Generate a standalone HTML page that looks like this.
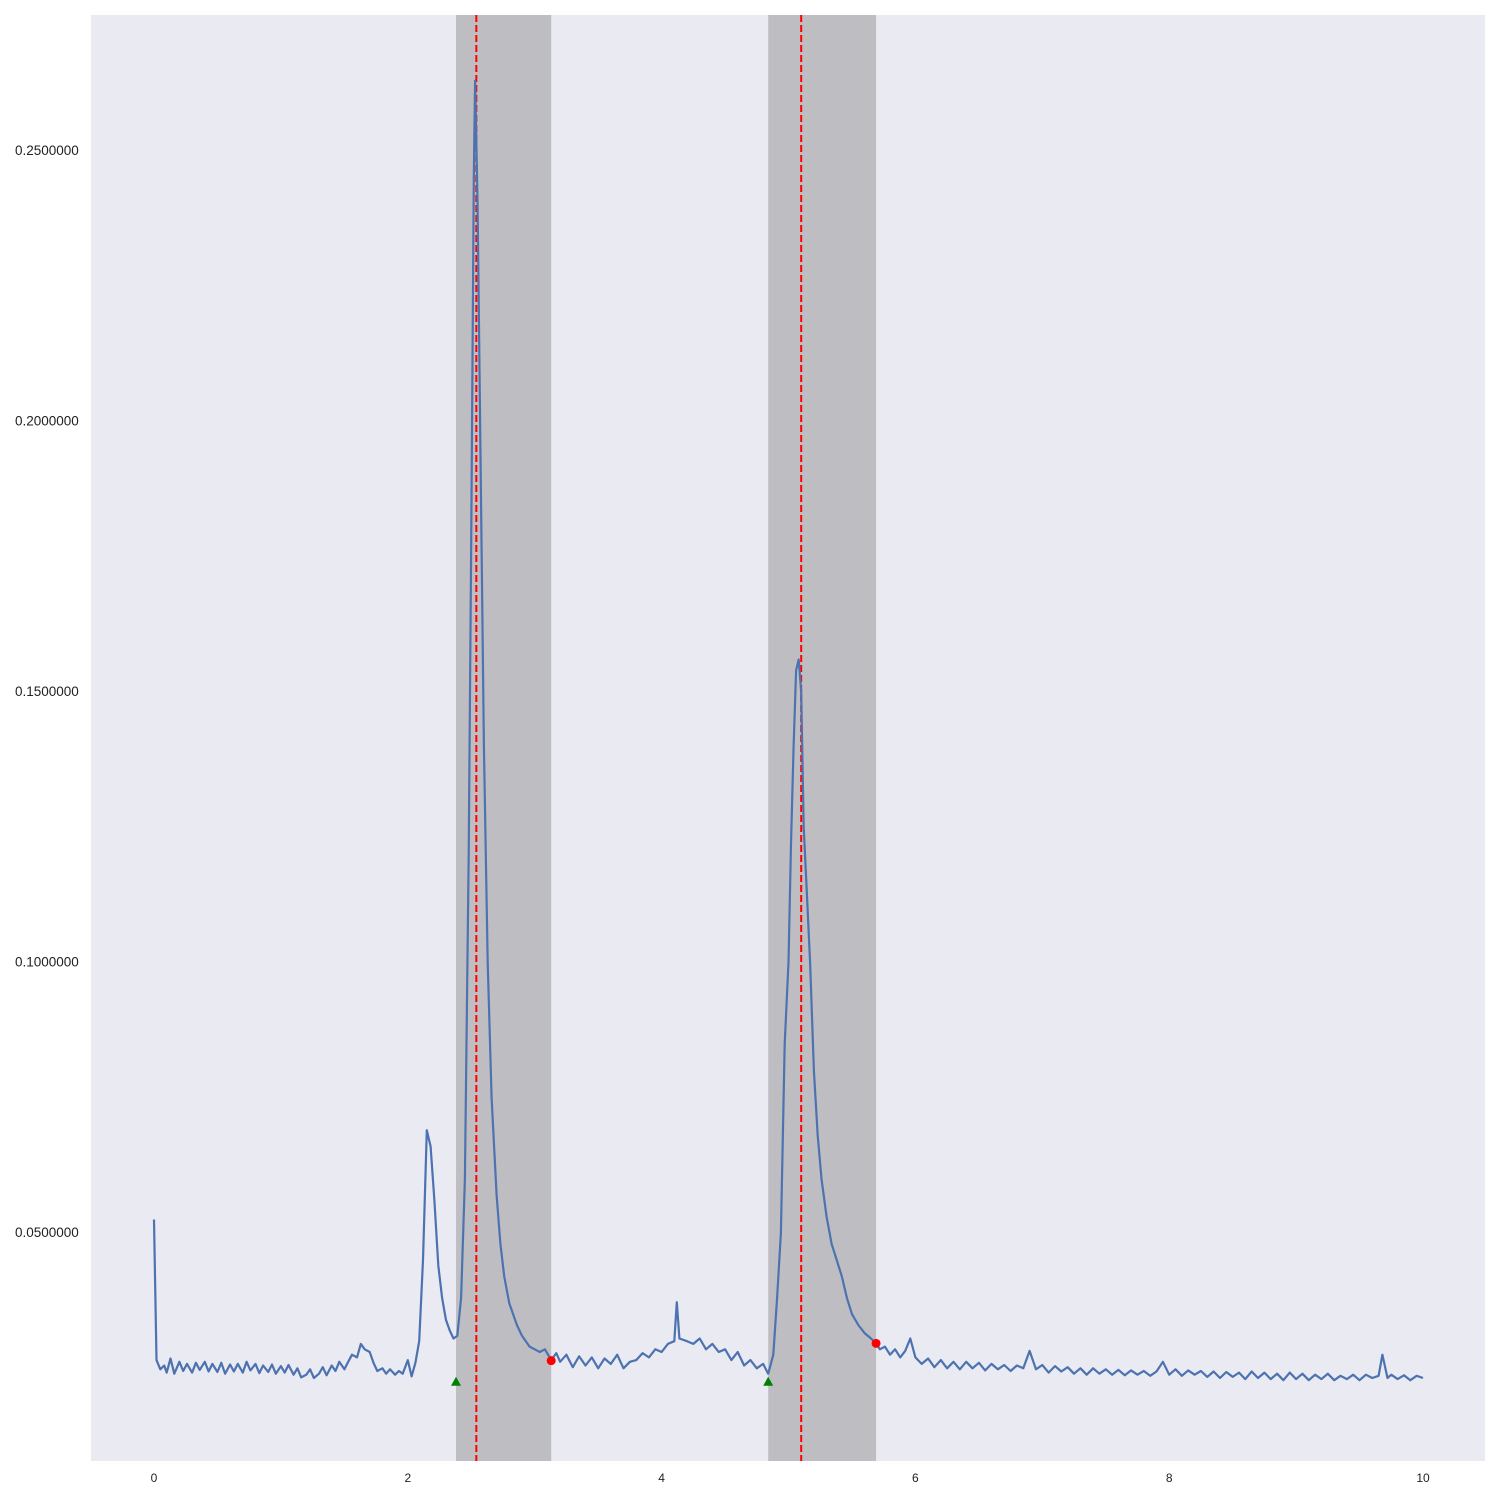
<!DOCTYPE html>
<html><head><meta charset="utf-8"><style>
body{margin:0;background:#fff}
svg{display:block;font-family:"Liberation Sans",sans-serif}
</style></head><body>
<svg id="chart" width="1500" height="1500" xmlns="http://www.w3.org/2000/svg">
<rect x="91" y="15" width="1394" height="1446" fill="#eaeaf2"/>
<g id="shades"></g><g id="lines"></g><g id="series"></g><g id="markers"></g><g id="ticks"></g>
</svg>
<script>
const xTicks=[0,2,4,6,8,10];
const yTicks=[0.05,0.10,0.15,0.20,0.25];
const regions=[[2.38,3.13],[4.84,5.69]];
const peaks=[2.54,5.10];
const startX=[2.38,4.84];
const startY=[0.0225,0.0225];
const endX=[3.13,5.69];
const endY=[0.0264,0.0296];
const xs=[0,0.02,0.05,0.08,0.1,0.13,0.16,0.2,0.23,0.26,0.3,0.33,0.36,0.4,0.43,0.46,0.5,0.53,0.56,0.6,0.63,0.66,0.7,0.73,0.76,0.8,0.83,0.86,0.9,0.93,0.96,1.0,1.03,1.06,1.1,1.13,1.16,1.2,1.23,1.26,1.3,1.33,1.36,1.4,1.43,1.46,1.5,1.53,1.56,1.6,1.63,1.66,1.7,1.73,1.76,1.8,1.83,1.86,1.9,1.93,1.96,2.0,2.03,2.06,2.09,2.12,2.15,2.18,2.21,2.24,2.27,2.3,2.33,2.36,2.39,2.42,2.45,2.48,2.5,2.52,2.53,2.55,2.57,2.6,2.63,2.66,2.7,2.73,2.76,2.8,2.83,2.86,2.9,2.93,2.96,3.0,3.04,3.08,3.13,3.17,3.2,3.25,3.3,3.35,3.4,3.45,3.5,3.55,3.6,3.65,3.7,3.75,3.8,3.85,3.9,3.95,4.0,4.05,4.1,4.12,4.14,4.2,4.25,4.3,4.35,4.4,4.45,4.5,4.55,4.6,4.65,4.7,4.75,4.8,4.84,4.88,4.91,4.94,4.97,5.0,5.02,5.04,5.06,5.08,5.1,5.12,5.14,5.17,5.2,5.23,5.26,5.3,5.34,5.38,5.42,5.46,5.5,5.55,5.6,5.65,5.69,5.72,5.76,5.8,5.84,5.88,5.92,5.96,6.0,6.05,6.1,6.15,6.2,6.25,6.3,6.35,6.4,6.45,6.5,6.55,6.6,6.65,6.7,6.75,6.8,6.85,6.9,6.95,7.0,7.05,7.1,7.15,7.2,7.25,7.3,7.35,7.4,7.45,7.5,7.55,7.6,7.65,7.7,7.75,7.8,7.85,7.9,7.95,8.0,8.05,8.1,8.15,8.2,8.25,8.3,8.35,8.4,8.45,8.5,8.55,8.6,8.65,8.7,8.75,8.8,8.85,8.9,8.95,9.0,9.05,9.1,9.15,9.2,9.25,9.3,9.35,9.4,9.45,9.5,9.55,9.6,9.65,9.68,9.72,9.75,9.8,9.85,9.9,9.95,10.0];
const ys=[0.0525,0.0265,0.0248,0.0255,0.0242,0.0268,0.0240,0.0262,0.0245,0.0258,0.0242,0.0260,0.0247,0.0262,0.0244,0.0258,0.0243,0.0260,0.0240,0.0257,0.0244,0.0258,0.0242,0.0262,0.0246,0.0258,0.0241,0.0255,0.0243,0.0257,0.0240,0.0254,0.0242,0.0256,0.0238,0.0250,0.0233,0.0238,0.0248,0.0232,0.0240,0.0252,0.0237,0.0255,0.0245,0.0262,0.0248,0.0262,0.0275,0.0270,0.0295,0.0285,0.0280,0.0260,0.0245,0.0250,0.0240,0.0248,0.0238,0.0245,0.0240,0.0265,0.0235,0.0260,0.0300,0.0450,0.0690,0.0660,0.0560,0.0440,0.0380,0.0340,0.0320,0.0305,0.0310,0.0380,0.0600,0.1200,0.1800,0.2450,0.2630,0.2400,0.2000,0.1400,0.1000,0.0750,0.0570,0.0480,0.0420,0.0370,0.0350,0.0330,0.0310,0.0300,0.0290,0.0285,0.0280,0.0285,0.0265,0.0278,0.0262,0.0275,0.0252,0.0272,0.0255,0.0270,0.0250,0.0268,0.0258,0.0275,0.0250,0.0262,0.0265,0.0278,0.0270,0.0285,0.0280,0.0295,0.0300,0.0372,0.0305,0.0300,0.0295,0.0305,0.0285,0.0295,0.0280,0.0285,0.0265,0.0280,0.0255,0.0265,0.0250,0.0258,0.0240,0.0275,0.0380,0.0500,0.0850,0.1000,0.1220,0.1400,0.1540,0.1560,0.1500,0.1250,0.1150,0.1000,0.0800,0.0680,0.0600,0.0530,0.0480,0.0450,0.0420,0.0380,0.0350,0.0330,0.0315,0.0305,0.0296,0.0285,0.0290,0.0275,0.0285,0.0270,0.0282,0.0305,0.0270,0.0258,0.0268,0.0252,0.0265,0.0250,0.0262,0.0248,0.0262,0.0250,0.0260,0.0246,0.0258,0.0248,0.0256,0.0245,0.0255,0.0250,0.0282,0.0248,0.0256,0.0242,0.0254,0.0244,0.0252,0.0240,0.0250,0.0238,0.0250,0.0240,0.0248,0.0238,0.0247,0.0237,0.0246,0.0238,0.0245,0.0236,0.0244,0.0262,0.0238,0.0248,0.0236,0.0246,0.0238,0.0245,0.0234,0.0244,0.0232,0.0243,0.0234,0.0242,0.0230,0.0244,0.0232,0.0242,0.0230,0.0240,0.0228,0.0242,0.0230,0.0240,0.0228,0.0238,0.0230,0.0240,0.0228,0.0236,0.0230,0.0238,0.0228,0.0238,0.0232,0.0236,0.0275,0.0232,0.0238,0.0230,0.0237,0.0228,0.0236,0.0232];
const X0=91,X1=1485,Y0=15,Y1=1461;
function sx(v){return 154+v*126.9;}
function sy(v){return 1503.5-v*5410;}
const NS="http://www.w3.org/2000/svg";
function mk(tag,parent,attrs){const e=document.createElementNS(NS,tag);for(const k in attrs)e.setAttribute(k,attrs[k]);document.getElementById(parent).appendChild(e);return e;}
regions.forEach(r=>{const e=mk('rect','shades',{x:sx(r[0]),y:Y0,width:sx(r[1])-sx(r[0]),height:Y1-Y0,fill:'#808080','fill-opacity':0.42});

});
peaks.forEach(p=>{const e=mk('line','lines',{x1:sx(p),x2:sx(p),y1:Y0,y2:Y1,stroke:'#ff0000','stroke-width':2,'stroke-dasharray':'7,3'});

});
let d=xs.map((x,i)=>(i?'L':'M')+sx(x).toFixed(1)+','+sy(ys[i]).toFixed(1)).join('');
const ln=mk('path','series',{d:d,fill:'none',stroke:'#4c72b0','stroke-width':2.2,'stroke-linejoin':'round'});


startX.forEach((x,i)=>{const cx=sx(x),cy=sy(startY[i]);const e=mk('polygon','markers',{points:`${cx},${cy-5} ${cx-5},${cy+4} ${cx+5},${cy+4}`,fill:'#008000'});

});
endX.forEach((x,i)=>{const e=mk('circle','markers',{cx:sx(x),cy:sy(endY[i]),r:4.5,fill:'#ff0000'});

});
xTicks.forEach(t=>{const e=mk('text','ticks',{x:sx(t),y:1482,'text-anchor':'middle','font-size':12,fill:'#222'});e.textContent=t;

});
yTicks.forEach(t=>{const e=mk('text','ticks',{x:15,y:sy(t)+4,'text-anchor':'start','font-size':13.5,fill:'#222'});e.textContent=t.toFixed(7);

});
</script>
</body></html>
